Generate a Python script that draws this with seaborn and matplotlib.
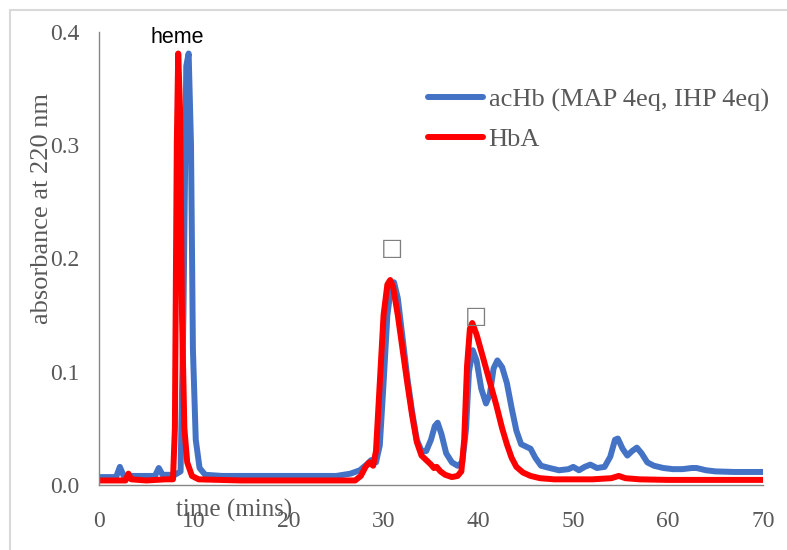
import matplotlib
matplotlib.use("Agg")
import matplotlib.pyplot as plt
from matplotlib.patches import Rectangle
import pandas as pd
import seaborn as sns

# Chromatogram traces: retention time (min) and absorbance at 220 nm
achb_time = [0.0, 1.8, 2.2, 2.6, 4.0, 5.9, 6.3, 6.7, 8.0, 8.6, 8.9, 9.2, 9.45, 9.7, 9.9,
             10.2, 10.6, 11.2, 13.0, 20.0, 25.0, 26.5, 27.5, 28.2, 28.7, 29.2, 29.6, 30.0,
             30.4, 30.8, 31.1, 31.5, 32.0, 32.5, 33.0, 33.5, 34.0, 34.5, 35.0, 35.4, 35.7,
             36.1, 36.6, 37.2, 37.8, 38.3, 38.7, 39.0, 39.4, 39.8, 40.3, 40.8, 41.2, 41.6,
             42.0, 42.5, 43.0, 43.5, 44.0, 44.5, 45.0, 45.5, 46.0, 46.6, 47.5, 48.5, 49.5,
             50.0, 50.6, 51.2, 51.8, 52.5, 53.3, 53.9, 54.4, 54.7, 55.2, 55.7, 56.2, 56.7,
             57.2, 57.8, 58.5, 59.5, 60.5, 61.5, 62.5, 63.0, 64.0, 65.0, 67.0, 70.0]
achb_abs = [0.007, 0.007, 0.016, 0.008, 0.008, 0.008, 0.015, 0.009, 0.009, 0.012, 0.15,
            0.37, 0.381, 0.30, 0.12, 0.04, 0.015, 0.009, 0.008, 0.008, 0.008, 0.010, 0.013,
            0.018, 0.022, 0.020, 0.035, 0.090, 0.150, 0.176, 0.179, 0.165, 0.130, 0.095,
            0.065, 0.040, 0.030, 0.030, 0.040, 0.052, 0.055, 0.045, 0.028, 0.020, 0.017,
            0.020, 0.050, 0.100, 0.119, 0.110, 0.085, 0.072, 0.080, 0.103, 0.110, 0.104,
            0.090, 0.068, 0.048, 0.036, 0.034, 0.032, 0.024, 0.017, 0.015, 0.013, 0.014,
            0.016, 0.013, 0.016, 0.018, 0.015, 0.016, 0.025, 0.040, 0.041, 0.032, 0.026,
            0.030, 0.033, 0.028, 0.020, 0.017, 0.015, 0.014, 0.014, 0.015, 0.015, 0.013,
            0.012, 0.0115, 0.0115]

hba_time = [0.0, 2.8, 3.1, 3.4, 5.0, 7.0, 7.8, 8.0, 8.2, 8.35, 8.55, 8.75, 9.0, 9.3, 9.8,
            10.5, 15.0, 27.0, 27.6, 28.1, 28.5, 28.9, 29.2, 29.6, 30.0, 30.4, 30.7, 31.0,
            31.5, 32.0, 32.5, 33.0, 33.5, 34.0, 34.5, 35.0, 35.3, 35.6, 36.0, 36.5, 37.2,
            37.8, 38.2, 38.5, 38.8, 39.1, 39.35, 39.8, 40.3, 40.8, 41.3, 41.9, 42.5, 43.0,
            43.5, 44.0, 44.7, 45.5, 46.5, 48.0, 52.0, 54.0, 54.8, 55.5, 57.0, 60.0, 70.0]
hba_abs = [0.004, 0.004, 0.010, 0.005, 0.004, 0.005, 0.005, 0.05, 0.30, 0.381, 0.33, 0.15,
           0.05, 0.020, 0.008, 0.005, 0.004, 0.004, 0.008, 0.016, 0.020, 0.017, 0.030,
           0.090, 0.150, 0.177, 0.181, 0.175, 0.150, 0.120, 0.090, 0.062, 0.038, 0.026,
           0.022, 0.018, 0.015, 0.016, 0.012, 0.009, 0.007, 0.008, 0.012, 0.040, 0.105,
           0.138, 0.143, 0.133, 0.118, 0.103, 0.088, 0.070, 0.050, 0.036, 0.024, 0.016,
           0.011, 0.008, 0.006, 0.005, 0.005, 0.006, 0.008, 0.006, 0.005, 0.0045, 0.0045]

series_labels = ["acHb (MAP 4eq, IHP 4eq)", "HbA"]
series_colors = ["#4472C4", "#FF0000"]
x_ticks = [0, 10, 20, 30, 40, 50, 60, 70]
y_ticks = [0.0, 0.1, 0.2, 0.3, 0.4]

df = pd.concat([
    pd.DataFrame({"time": achb_time, "absorbance": achb_abs, "sample": series_labels[0]}),
    pd.DataFrame({"time": hba_time, "absorbance": hba_abs, "sample": series_labels[1]}),
], ignore_index=True)

sns.set_style("white")
plt.rcParams["font.family"] = ["Liberation Serif", "DejaVu Serif"]

grey_txt = "#595959"
grey_axis = "#868686"
lw = 4.3

fig = plt.figure(figsize=(7.87, 5.5), dpi=100)
ax = fig.add_axes([99 / 787, 1 - 485 / 550, 664 / 787, 453 / 550])

sns.lineplot(data=df, x="time", y="absorbance", hue="sample",
             palette=dict(zip(series_labels, series_colors)),
             estimator=None, sort=False, linewidth=lw, ax=ax)
for line in ax.get_lines():
    line.set_solid_capstyle("round")
    line.set_solid_joinstyle("round")

ax.set_xlim(0, 70)
ax.set_ylim(0, 0.4)
ax.set_xticks(x_ticks)
ax.set_yticks(y_ticks)
ax.set_yticklabels([f"{v:.1f}" for v in y_ticks])
ax.set_xticklabels([str(v) for v in x_ticks])

for side in ("top", "right"):
    ax.spines[side].set_visible(False)
for side in ("left", "bottom"):
    ax.spines[side].set_color(grey_axis)
    ax.spines[side].set_linewidth(1.0)

ax.tick_params(axis="both", colors=grey_axis, length=5, width=1.0, direction="out",
               labelsize=17, labelcolor=grey_txt)
ax.tick_params(axis="x", pad=14)
ax.tick_params(axis="y", pad=9)
ax.grid(False)

ax.set_xlabel("time (mins)", fontsize=18, color=grey_txt)
ax.xaxis.set_label_coords((234 - 99) / 664, -(510 - 485) / 453)
ax.xaxis.label.set_verticalalignment("center")
ax.set_ylabel("absorbance at 220 nm", fontsize=19, color=grey_txt)
ax.yaxis.set_label_coords((42 - 99) / 664, (485 - 208) / 453)
ax.yaxis.label.set_verticalalignment("center")

# peak annotations
ax.text(8.3, 0.395, "heme", family=["Liberation Sans", "DejaVu Sans"], fontsize=15.5,
        color="black", ha="center", va="center")
ax.text(30.9, 0.209, "\u25a1", family=["DejaVu Sans"], fontsize=17, color="#7f7f7f",
        ha="center", va="center")
ax.text(39.7, 0.149, "\u25a1", family=["DejaVu Sans"], fontsize=17, color="#7f7f7f",
        ha="center", va="center")

handles, labels = ax.get_legend_handles_labels()
leg = ax.legend(handles, labels, loc="upper left",
                bbox_to_anchor=((428 - 99) / 664, (485 - 88) / 453),
                frameon=False, fontsize=19, handlelength=2.08, handletextpad=0.22,
                labelspacing=0.6, borderpad=0, borderaxespad=0)
for t in leg.get_texts():
    t.set_color(grey_txt)
for h in leg.legend_handles:
    h.set_linewidth(lw)
    h.set_solid_capstyle("round")

# light frame around the chart area
fig.patches.append(Rectangle((10 / 787, -0.1), 1.2, (1 - 10 / 550) + 0.1,
                             transform=fig.transFigure, fill=False,
                             edgecolor="#d9d9d9", linewidth=1.5))

fig.savefig("out.png", dpi=100)
